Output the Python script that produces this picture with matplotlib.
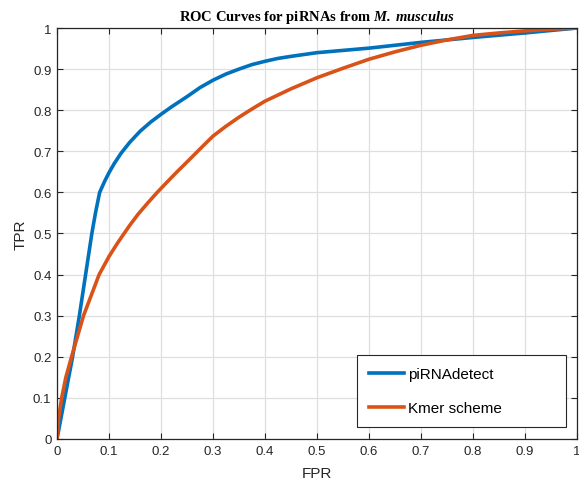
import matplotlib
matplotlib.use("Agg")
import matplotlib.pyplot as plt
from matplotlib.ticker import FormatStrFormatter, MultipleLocator

# ROC points
detect_fpr = [0, 0.015, 0.03, 0.043, 0.055, 0.067, 0.074, 0.082, 0.092, 0.1, 0.11,
              0.123, 0.14, 0.16, 0.18, 0.2, 0.22, 0.25, 0.275, 0.3, 0.325, 0.35,
              0.375, 0.4, 0.425, 0.45, 0.5, 0.6, 0.7, 0.8, 0.9, 1.0]
detect_tpr = [0, 0.1, 0.2, 0.3, 0.4, 0.5, 0.55, 0.6, 0.628, 0.648, 0.67,
              0.695, 0.722, 0.749, 0.771, 0.79, 0.808, 0.833, 0.855, 0.873, 0.888, 0.9,
              0.911, 0.919, 0.926, 0.931, 0.94, 0.951, 0.965, 0.977, 0.988, 1.0]

kmer_fpr = [0, 0.003, 0.009, 0.017, 0.028, 0.051, 0.081, 0.1, 0.115, 0.129, 0.14, 0.156,
            0.175, 0.192, 0.21, 0.23, 0.25, 0.265, 0.28, 0.3, 0.325, 0.35, 0.375,
            0.4, 0.45, 0.5, 0.55, 0.6, 0.65, 0.7, 0.75, 0.8, 0.85, 0.9, 0.95, 1.0]
kmer_tpr = [0, 0.05, 0.1, 0.15, 0.2, 0.3, 0.4, 0.444, 0.474, 0.5, 0.52, 0.547,
            0.575, 0.599, 0.623, 0.649, 0.674, 0.693, 0.712, 0.737, 0.761, 0.783, 0.803,
            0.822, 0.852, 0.879, 0.902, 0.924, 0.942, 0.958, 0.971, 0.982, 0.988, 0.993, 0.997, 1.0]

labels = ["piRNAdetect", "Kmer scheme"]
colors = ["#0072BD", "#D95319"]

plt.rcParams['font.family'] = ['Liberation Sans', 'DejaVu Sans']
plt.rcParams['mathtext.fontset'] = 'custom'
plt.rcParams['mathtext.bfit'] = 'Liberation Serif:italic:bold'
plt.rcParams['mathtext.rm'] = 'Liberation Serif'

dark = "#262626"

fig = plt.figure(figsize=(5.79, 4.85), dpi=100)
ax = fig.add_axes([57 / 579, 45 / 485, 520 / 579, 411 / 485])

ax.plot(detect_fpr, detect_tpr, color=colors[0], lw=2.6, label=labels[0])
ax.plot(kmer_fpr, kmer_tpr, color=colors[1], lw=2.6, label=labels[1])

ax.set_xlim(0, 1)
ax.set_ylim(0, 1)
ax.xaxis.set_major_locator(MultipleLocator(0.1))
ax.yaxis.set_major_locator(MultipleLocator(0.1))
ax.xaxis.set_major_formatter(FormatStrFormatter('%g'))
ax.yaxis.set_major_formatter(FormatStrFormatter('%g'))
ax.grid(True, color="#dfdfdf", lw=0.9)
ax.set_axisbelow(True)
ax.tick_params(direction='in', top=True, right=True, length=4, width=0.8,
               colors=dark, labelsize=9.5, pad=4)
for s in ax.spines.values():
    s.set_color(dark)
    s.set_linewidth(0.9)

ax.set_xlabel("FPR", fontsize=11, color=dark, labelpad=7)
ax.set_ylabel("TPR", fontsize=11, color=dark, labelpad=4)
ax.set_title("ROC Curves for piRNAs from " + r"$\mathbfit{M.\,musculus}$",
             fontsize=10.5, fontweight='bold', family='Liberation Serif', pad=6)

leg = ax.legend(loc='lower left', bbox_to_anchor=(0.576, 0.0285, 0.402, 0.179),
                mode='expand', borderaxespad=0, fontsize=11, frameon=True,
                fancybox=False, framealpha=1, edgecolor=dark, borderpad=0.8,
                labelspacing=1.3, handlelength=2.3, handletextpad=0.3)
leg.get_frame().set_linewidth(0.8)

fig.savefig("out.png", dpi=100)
